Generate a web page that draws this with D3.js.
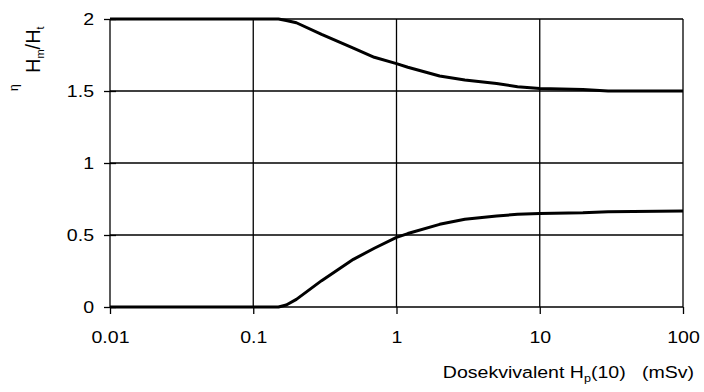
<!DOCTYPE html>
<html>
<head>
<meta charset="utf-8">
<style>
    body { margin: 0; background: #fff; }
    svg { display: block; font-family: 'Liberation Sans', Arial, sans-serif; }
    .axis text { font-size: 17px; fill: #000; }
    .axis .domain { display: none; }
    .axis .tick line { stroke: #000; stroke-width: 1.3px; }
    .grid line { stroke: #000; stroke-width: 1.3px; }
</style>
</head>
<body>
<svg width="704" height="392"></svg>
<script src="https://d3js.org/d3.v7.min.js"></script>
<script>
    // dose equivalent Hp(10) in mSv
    let doses = [0.01, 0.15, 0.17, 0.2, 0.3, 0.5, 0.7, 1, 1.2, 2, 3, 5, 7, 10, 20, 30, 100]
    let upper = [2, 2, 1.99, 1.974, 1.893, 1.797, 1.734, 1.69, 1.665, 1.604, 1.576, 1.552, 1.53, 1.517, 1.51, 1.5, 1.5]
    let lower = [0, 0, 0.014, 0.053, 0.183, 0.331, 0.408, 0.484, 0.51, 0.574, 0.609, 0.632, 0.644, 0.65, 0.655, 0.662, 0.667]
    let xTicks = [0.01, 0.1, 1, 10, 100]
    let xTickLabels = ["0.01", "0.1", "1", "10", "100"]
    let yTicks = [0, 0.5, 1, 1.5, 2]
    let yTickLabels = ["0", "0.5", "1", "1.5", "2"]

    let svg = d3.select("svg")
    let margin = { top: 19, right: 21, bottom: 85, left: 110 }
    let width = 704, height = 392
    let stretch = 1.15 // the original text is a bit wide

    let x = d3.scaleLog()
        .domain([0.01, 100])
        .range([margin.left, width - margin.right])

    let y = d3.scaleLinear()
        .domain([0, 2])
        .range([height - margin.bottom, margin.top])

    // grid
    let grid = svg.append("g").attr("class", "grid")
    grid.selectAll(".hline")
        .data(yTicks)
        .join("line")
        .attr("x1", x(0.01))
        .attr("x2", x(100))
        .attr("y1", d => y(d))
        .attr("y2", d => y(d))
    grid.selectAll(".vline")
        .data(xTicks)
        .join("line")
        .attr("x1", d => x(d))
        .attr("x2", d => x(d))
        .attr("y1", y(0))
        .attr("y2", y(2))

    // axes
    svg.append("g")
        .attr("class", "axis")
        .attr("transform", `translate(0,${y(0)})`)
        .call(d3.axisBottom(x)
            .tickValues(xTicks)
            .tickFormat((d, i) => xTickLabels[i])
            .tickSize(7)
            .tickPadding(17))
        .call(g => g.selectAll(".tick text").attr("transform", `scale(${stretch},1)`))

    svg.append("g")
        .attr("class", "axis")
        .attr("transform", `translate(${x(0.01)},0)`)
        .call(d3.axisLeft(y)
            .tickValues(yTicks)
            .tickFormat((d, i) => yTickLabels[i])
            .tickSize(6)
            .tickPadding(10))
        .call(g => g.selectAll(".tick line").attr("x2", 6).attr("x1", -6))
        .call(g => g.selectAll(".tick text")
            .attr("x", -16 / stretch)
            .attr("transform", `scale(${stretch},1)`))

    let line = d3.line()
        .x((d, i) => x(doses[i]))
        .y(d => y(d))

    svg.append("g")
        .selectAll("path")
        .data([upper, lower])
        .join("path")
        .attr("d", d => line(d))
        .style("fill", "none")
        .style("stroke", "#000")
        .style("stroke-width", "3px")
        .style("stroke-linejoin", "round")

    // y axis label
    let yl = svg.append("text")
        .attr("transform", "translate(40,73) rotate(-90)")
        .style("font-size", "20px")
    yl.append("tspan").text("H")
    yl.append("tspan").text("m").style("font-size", "11px").attr("dy", 4)
    yl.append("tspan").text("/H").attr("dy", -4)
    yl.append("tspan").text("t").style("font-size", "11px").attr("dy", 4)

    svg.append("text")
        .attr("transform", "translate(18,91) rotate(-90)")
        .style("font-size", "12px")
        .text("η")

    // x axis label
    let xl = svg.append("text")
        .attr("transform", `translate(694,378) scale(${stretch},1)`)
        .attr("text-anchor", "end")
        .style("font-size", "17px")
    xl.append("tspan").text("Dosekvivalent H")
    xl.append("tspan").text("p").style("font-size", "11px").attr("dy", 4)
    xl.append("tspan").text("(10)\u00a0\u00a0\u00a0(mSv)").attr("dy", -4)
</script>
</body>
</html>
